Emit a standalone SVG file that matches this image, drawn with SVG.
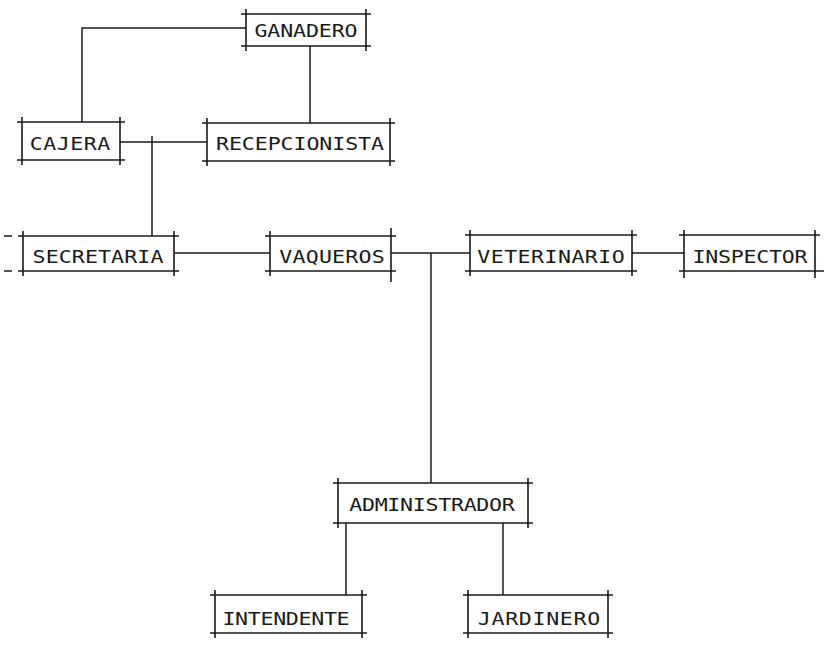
<svg xmlns="http://www.w3.org/2000/svg" width="826" height="645" viewBox="0 0 826 645">
<style>
.b{fill:none;stroke:#1a1a1a;stroke-width:1.6}
.c{fill:none;stroke:#1a1a1a;stroke-width:1.5}
.t{font-family:"DejaVu Sans Mono","Liberation Mono",monospace;font-size:18px;fill:#1a1a1a;text-anchor:middle}
</style>
<rect width="826" height="645" fill="#ffffff"/>
<g id="connectors">
<path class="c" d="M246,28 H82 V122"/>
<path class="c" d="M310,46 V123"/>
<path class="c" d="M120,142 H207"/>
<path class="c" d="M152,136 V236"/>
<path class="c" d="M174,253 H270"/>
<path class="c" d="M391,253 H470"/>
<path class="c" d="M431,253 V483"/>
<path class="c" d="M632,253 H684"/>
<path class="c" d="M346,523 V595"/>
<path class="c" d="M503,523 V595"/>
</g>
<g id="ganadero">
<path class="b" d="M241,14 H371 M241,46 H371 M246,9 V51 M366,9 V51"/>
<text class="t" transform="translate(306,37) scale(1.2,1)" textLength="86" lengthAdjust="spacing">GANADERO</text>
</g>
<g id="cajera">
<path class="b" d="M17,122 H125 M17,160 H125 M22,117 V165 M120,117 V165"/>
<text class="t" transform="translate(70,150) scale(1.2,1)" textLength="67" lengthAdjust="spacing">CAJERA</text>
</g>
<g id="recepcionista">
<path class="b" d="M202,123 H395 M202,161 H395 M207,118 V166 M390,118 V166"/>
<text class="t" transform="translate(300,150) scale(1.2,1)" textLength="140" lengthAdjust="spacing">RECEPCIONISTA</text>
</g>
<g id="secretaria">
<path class="b" d="M18,236 H179 M18,271 H179 M23,231 V276 M174,231 V276"/>
<path class="b" d="M4,236 H12 M4,271 H12"/>
<text class="t" transform="translate(98,263) scale(1.2,1)" textLength="109" lengthAdjust="spacing">SECRETARIA</text>
</g>
<g id="vaqueros">
<path class="b" d="M265,236 H396 M265,271 H396 M270,231 V276 M391,228 V282"/>
<text class="t" transform="translate(332,263) scale(1.2,1)" textLength="88" lengthAdjust="spacing">VAQUEROS</text>
</g>
<g id="veterinario">
<path class="b" d="M465,235 H637 M465,271 H637 M470,230 V276 M632,230 V276"/>
<text class="t" transform="translate(551,263) scale(1.2,1)" textLength="123" lengthAdjust="spacing">VETERINARIO</text>
</g>
<g id="inspector">
<path class="b" d="M679,235 H820 M679,271 H824 M684,230 V278 M815,230 V278"/>
<text class="t" transform="translate(750,263) scale(1.2,1)" textLength="96" lengthAdjust="spacing">INSPECTOR</text>
</g>
<g id="administrador">
<path class="b" d="M333,483 H533 M333,523 H533 M338,478 V528 M528,478 V528"/>
<text class="t" transform="translate(432,511) scale(1.2,1)" textLength="138" lengthAdjust="spacing">ADMINISTRADOR</text>
</g>
<g id="intendente">
<path class="b" d="M210,595 H367 M210,633 H367 M215,590 V638 M362,590 V638"/>
<text class="t" transform="translate(286,625) scale(1.2,1)" textLength="106" lengthAdjust="spacing">INTENDENTE</text>
</g>
<g id="jardinero">
<path class="b" d="M463,595 H613 M463,633 H613 M468,590 V638 M608,590 V638"/>
<text class="t" transform="translate(539,625) scale(1.2,1)" textLength="102" lengthAdjust="spacing">JARDINERO</text>
</g>
</svg>
